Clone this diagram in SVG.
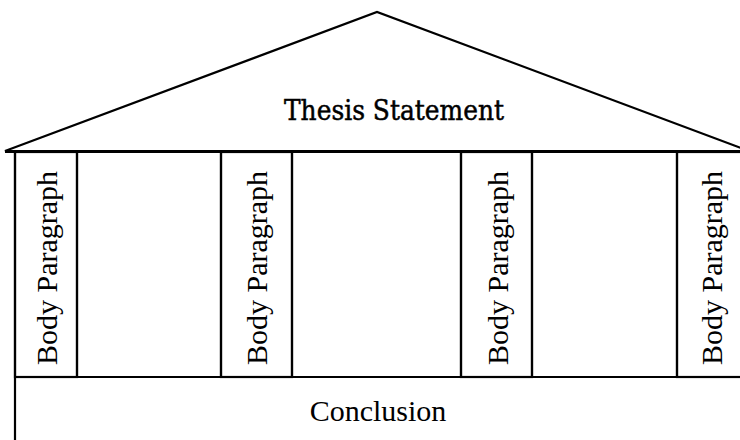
<svg xmlns="http://www.w3.org/2000/svg" width="740" height="440" viewBox="0 0 740 440">
<style>
.ln{fill:none;stroke:#000;stroke-width:2.2}
.bp{font-family:"Liberation Serif","Times New Roman",serif;font-size:30px;fill:#000;text-anchor:middle}
.th{font-family:"DejaVu Serif",serif;font-size:27px;fill:#000;stroke:#000;stroke-width:0.5;text-anchor:middle}
</style>
<rect width="740" height="440" fill="#fff"/>
<g id="roof">
<path class="ln" d="M5,151 L377,12 L749,151 Z"/>
<text class="th" x="394" y="120" textLength="220" lengthAdjust="spacingAndGlyphs">Thesis Statement</text>
</g>
<g id="columns-frame">
<path class="ln" d="M5,152 H742"/>
<path class="ln" d="M77,152 V377 M221,152 V377 M292,152 V377 M461,152 V377 M532,152 V377 M677,152 V377"/>
</g>
<g id="body1">
<rect class="ln" x="15" y="152" width="62" height="225"/>
<text class="bp" transform="translate(57,268) rotate(-90)">Body Paragraph</text>
</g>
<g id="body2">
<rect class="ln" x="221" y="152" width="71" height="225"/>
<text class="bp" transform="translate(267,268) rotate(-90)">Body Paragraph</text>
</g>
<g id="body3">
<rect class="ln" x="461" y="152" width="71" height="225"/>
<text class="bp" transform="translate(508,268) rotate(-90)">Body Paragraph</text>
</g>
<g id="body4">
<rect class="ln" x="677" y="152" width="70" height="225"/>
<text class="bp" transform="translate(722,268) rotate(-90)">Body Paragraph</text>
</g>
<g id="conclusion">
<path class="ln" d="M15,152 V442 M15,377 H742"/>
<text class="bp" x="378" y="421">Conclusion</text>
</g>
</svg>
